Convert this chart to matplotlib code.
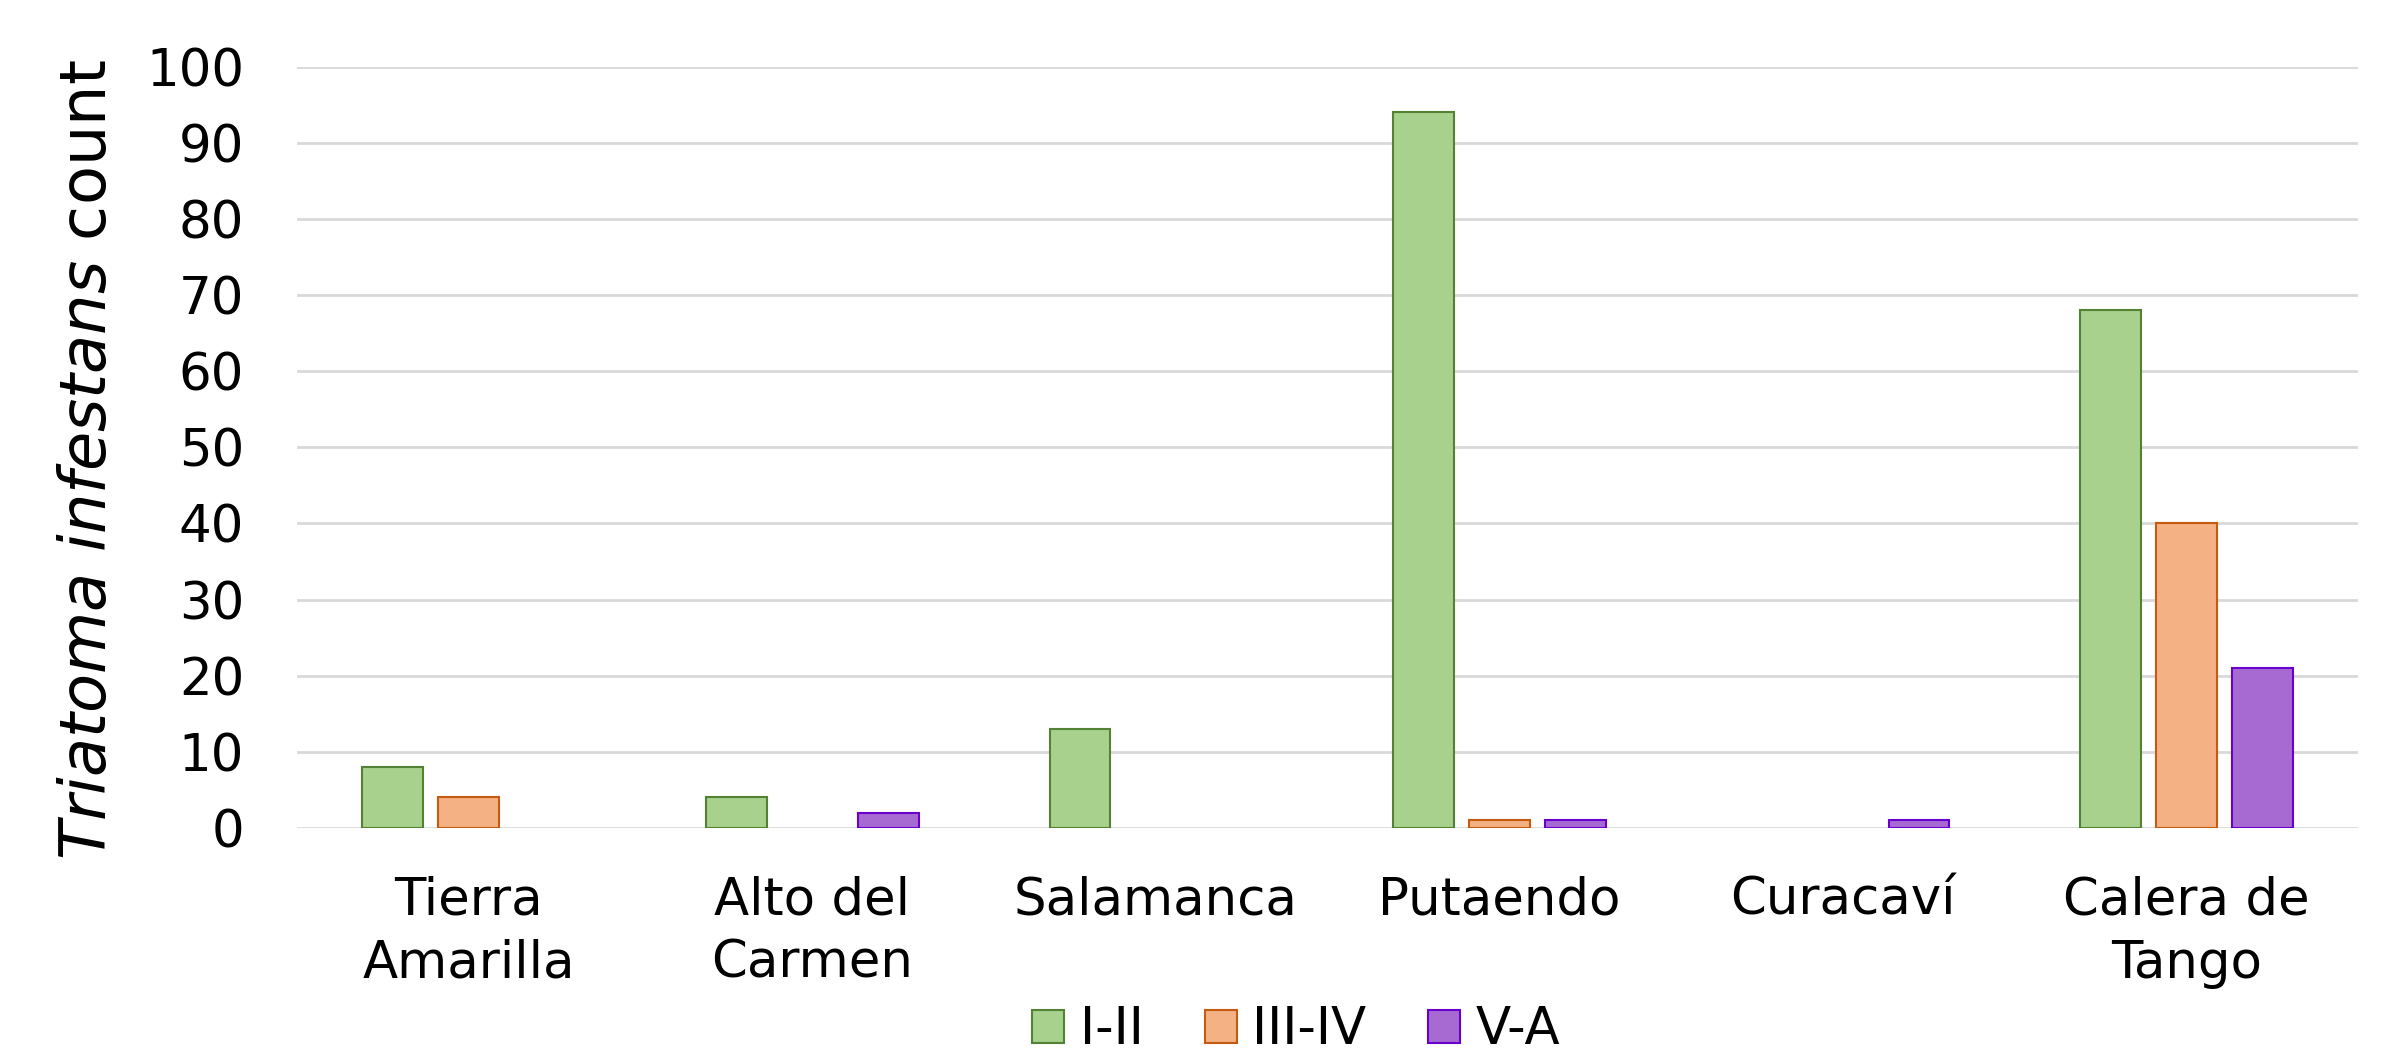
import matplotlib
matplotlib.use("Agg")
import matplotlib.pyplot as plt
import numpy as np
from matplotlib.patches import Patch

categories = ["Tierra\nAmarilla", "Alto del\nCarmen", "Salamanca", "Putaendo", "Curacaví", "Calera de\nTango"]
series_names = ["I-II", "III-IV", "V-A"]
vals_I_II = [8, 4, 13, 94, 0, 68]
vals_III_IV = [4, 0, 0, 1, 0, 40]
vals_V_A = [0, 2, 0, 1, 1, 21]
yticks = [0, 10, 20, 30, 40, 50, 60, 70, 80, 90, 100]

fills = ["#A9D18E", "#F4B183", "#A66AD2"]
edges = ["#548235", "#C55A11", "#6A00CC"]

plt.rcParams['font.family'] = ['DejaVu Sans']

fig = plt.figure(figsize=(23.87, 10.60), dpi=100)
ax = fig.add_axes([0.1244, 0.219, 0.8636, 0.718])

x = np.arange(len(categories))
w = 0.177
step = 0.221
for i, (vals, fc, ec) in enumerate(zip([vals_I_II, vals_III_IV, vals_V_A], fills, edges)):
    vals = np.array(vals, dtype=float)
    ecs = [ec if v > 0 else 'none' for v in vals]
    ax.bar(x + (i - 1) * step, vals, width=w, color=fc, edgecolor=ecs, linewidth=1.5, zorder=3)

ax.set_xlim(-0.5, len(categories) - 0.5)
ax.set_ylim(0, 100)
ax.set_yticks(yticks)
ax.set_yticklabels([str(t) for t in yticks], fontsize=37)
ax.set_xticks(x)
ax.set_xticklabels(categories, fontsize=37, linespacing=1.35)
ax.tick_params(axis='y', length=0, pad=38)
ax.tick_params(axis='x', length=0, pad=34)
ax.grid(axis='y', color='#D9D9D9', linewidth=2, zorder=0)
for s in ax.spines.values():
    s.set_visible(False)

fig.text(0.037, 0.566, "$\\it{Triatoma\\ infestans}$ count", rotation=90, fontsize=46,
         ha='center', va='center')

handles = [Patch(facecolor=fc, edgecolor=ec, linewidth=1.5) for fc, ec in zip(fills, edges)]
fig.legend(handles, series_names, loc='center', bbox_to_anchor=(0.543, 0.028), ncol=3,
           frameon=False, fontsize=37, handlelength=0.62, handleheight=0.62,
           handletextpad=0.3, columnspacing=1.2, borderpad=0)

fig.savefig("out.png", dpi=100)
